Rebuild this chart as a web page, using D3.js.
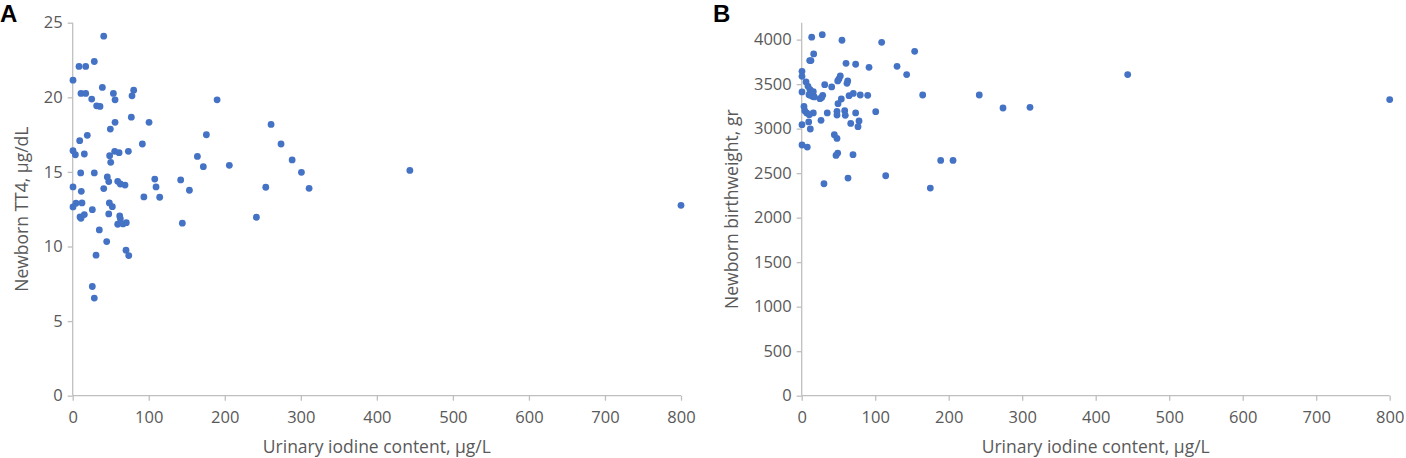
<!DOCTYPE html>
<html>
<head>
<meta charset="utf-8">
<script src="https://cdn.jsdelivr.net/npm/d3@7"></script>
<style>
	body { margin: 0; background: #fff; }
	svg { display: block; font-family: "Open Sans", sans-serif; }
</style>
</head>
<body>
<svg id="chart" width="1406" height="458"></svg>
<script>
// Panel A: urinary iodine (µg/L) vs newborn TT4 (µg/dL)
var iodineA = [40.8, 8.3, 17.1, 28.4, 0.4, 10.9, 17.1, 39, 53.5, 80.2, 78, 25, 55.7, 31.5, 35.9,
	77.1, 55.7, 100.4, 49.5, 19.2, 9.2, 91.6, 0.4, 3.5, 15.3, 55.2, 61, 73.2, 48.6, 50,
	10.5, 28.4, 45.5, 47.4, 59.2, 62.6, 68.8, 107.9, 109.6, 142, 0.4, 11.3, 40.8, 93.6, 114.4,
	0.4, 4.3, 12.2, 25.8, 48.2, 52.1, 9.6, 10.9, 15.3, 47.4, 61.8, 62.6, 59.2, 66.2, 70.5,
	144.2, 35, 44.7, 30.7, 70.1, 73.7, 25.8, 28.4, 189.9, 260.9, 175.8, 274, 164, 171.8, 206,
	288.6, 300.8, 153.5, 253.9, 310.9, 241.6, 443.4, 800];
var tt4 = [24.1, 22.07, 22.07, 22.4, 21.15, 20.26, 20.26, 20.66, 20.26, 20.48, 20.1, 19.88, 19.83, 19.43, 19.39,
	18.67, 18.32, 18.32, 17.87, 17.45, 17.09, 16.87, 16.42, 16.15, 16.2, 16.38, 16.29, 16.38, 16.09, 15.64,
	14.93, 14.93, 14.66, 14.35, 14.37, 14.19, 14.12, 14.52, 13.99, 14.46, 13.99, 13.7, 13.88, 13.32, 13.3,
	12.65, 12.9, 12.92, 12.47, 12.92, 12.67, 11.98, 11.89, 12.14, 12.18, 12.05, 11.87, 11.49, 11.51, 11.6,
	11.56, 11.11, 10.33, 9.42, 9.75, 9.39, 7.32, 6.54, 19.83, 18.18, 17.49, 16.87, 16.04, 15.35, 15.44,
	15.8, 14.97, 13.77, 13.97, 13.9, 11.96, 15.1, 12.76];

// Panel B: urinary iodine (µg/L) vs newborn birthweight (gr)
var iodineB = [13.6, 28, 54.8, 108.8, 153.7, 16.3, 10.9, 12.6, 60.3, 73.4, 91.6, 129.7, 142.8, 0.4, 0.4,
	5.9, 31.3, 40.8, 52.5, 50.7, 49, 62.6, 61.6, 0.4, 8.6, 11.3, 15.8, 13.1, 11.3, 15,
	17.2, 28.6, 27.2, 24.9, 53.9, 49.4, 64.4, 70.2, 79.7, 89.8, 164.6, 241.6, 273.9, 310.6, 3.1,
	4.1, 6.8, 15.8, 10.3, 34.8, 48, 48, 58.5, 59.3, 73.4, 100.7, 26.3, 78, 66.7, 76.6,
	0.4, 9.5, 11.7, 44.4, 48, 0.4, 7.6, 49, 46.7, 69.8, 189.1, 205.9, 114.3, 63, 30.3,
	175, 443.5, 800, 9.9];
var birthweight = [4027, 4056, 3993, 3970, 3869, 3839, 3764, 3764, 3734, 3723, 3689, 3700, 3607, 3644, 3588,
	3524, 3494, 3468, 3592, 3558, 3536, 3536, 3509, 3412, 3475, 3438, 3415, 3400, 3374, 3360,
	3356, 3374, 3351, 3337, 3333, 3280, 3370, 3396, 3378, 3374, 3378, 3378, 3232, 3239, 3250,
	3202, 3176, 3176, 3157, 3176, 3194, 3153, 3202, 3149, 3176, 3190, 3093, 3086, 3059, 3022,
	3044, 3075, 2996, 2932, 2890, 2816, 2793, 2726, 2699, 2707, 2643, 2643, 2471, 2445, 2381,
	2332, 3607, 3326, 3382];

var xTicks = [0, 100, 200, 300, 400, 500, 600, 700, 800];
var yTicksA = [0, 5, 10, 15, 20, 25];
var yTicksB = [0, 500, 1000, 1500, 2000, 2500, 3000, 3500, 4000];

var svg = d3.select("#chart");

// Settings
var axisColor = "#bfbfbf",
	textColor = "#595959",
	dotColor = "#4472c4",
	tickFont = "16.5px",
	titleFont = "17.5px",
	plotTop = 22.7,
	plotBottom = 395.7;

function panel(opt) {
	var g = svg.append("g");

	var x = d3.scaleLinear().domain([0, 800]).range([opt.left, opt.right]);
	var y = d3.scaleLinear().domain([0, opt.yMax]).range([plotBottom, plotTop]);

	// axes
	var xAxis = g.append("g")
		.attr("transform", "translate(0," + plotBottom + ")")
		.call(d3.axisBottom(x).tickValues(xTicks).tickFormat(d3.format("d")).tickSize(5).tickPadding(11));
	var yAxis = g.append("g")
		.attr("transform", "translate(" + opt.left + ",0)")
		.call(d3.axisLeft(y).tickValues(opt.yTicks).tickFormat(d3.format("d")).tickSize(5).tickPadding(5));

	[xAxis, yAxis].forEach(function (a) {
		a.select(".domain").attr("stroke", axisColor).attr("stroke-width", 1.3);
		a.selectAll(".tick line").attr("stroke", axisColor).attr("stroke-width", 1.3);
		a.selectAll(".tick text")
			.attr("fill", textColor)
			.style("font-size", tickFont)
			.style("font-family", "'Open Sans', sans-serif");
	});
	// d3 axes draw outer ticks on the domain path; keep it a plain line
	xAxis.select(".domain").attr("d", "M" + opt.left + ",0H" + opt.right);
	yAxis.select(".domain").attr("d", "M0," + plotBottom + "V" + plotTop);

	// dots
	g.append("g")
		.selectAll("circle")
		.data(opt.xs)
		.join("circle")
		.attr("cx", function (d) { return x(d); })
		.attr("cy", function (d, i) { return y(opt.ys[i]); })
		.attr("r", 3.4)
		.attr("fill", dotColor);

	// axis titles
	g.append("text")
		.attr("x", (opt.left + opt.right) / 2)
		.attr("y", 453)
		.attr("text-anchor", "middle")
		.attr("fill", textColor)
		.style("font-size", titleFont)
		.text("Urinary iodine content, µg/L");

	g.append("text")
		.attr("transform", "translate(" + opt.titleX + "," + ((plotTop + plotBottom) / 2) + ") rotate(-90)")
		.attr("text-anchor", "middle")
		.attr("fill", textColor)
		.style("font-size", titleFont)
		.text(opt.yTitle);

	// panel letter
	g.append("text")
		.attr("x", opt.letterX)
		.attr("y", 22)
		.attr("fill", "#000")
		.style("font-family", "'Liberation Sans', Arial, sans-serif")
		.style("font-size", "24px")
		.style("font-weight", "bold")
		.text(opt.letter);
}

panel({
	letter: "A", letterX: 0,
	left: 72.7, right: 681,
	yMax: 25, yTicks: yTicksA,
	xs: iodineA, ys: tt4,
	yTitle: "Newborn TT4, µg/dL", titleX: 28
});

panel({
	letter: "B", letterX: 713,
	left: 801.7, right: 1389.7,
	yMax: 4190, yTicks: yTicksB,
	xs: iodineB, ys: birthweight,
	yTitle: "Newborn birthweight, gr", titleX: 738
});
</script>
</body>
</html>
